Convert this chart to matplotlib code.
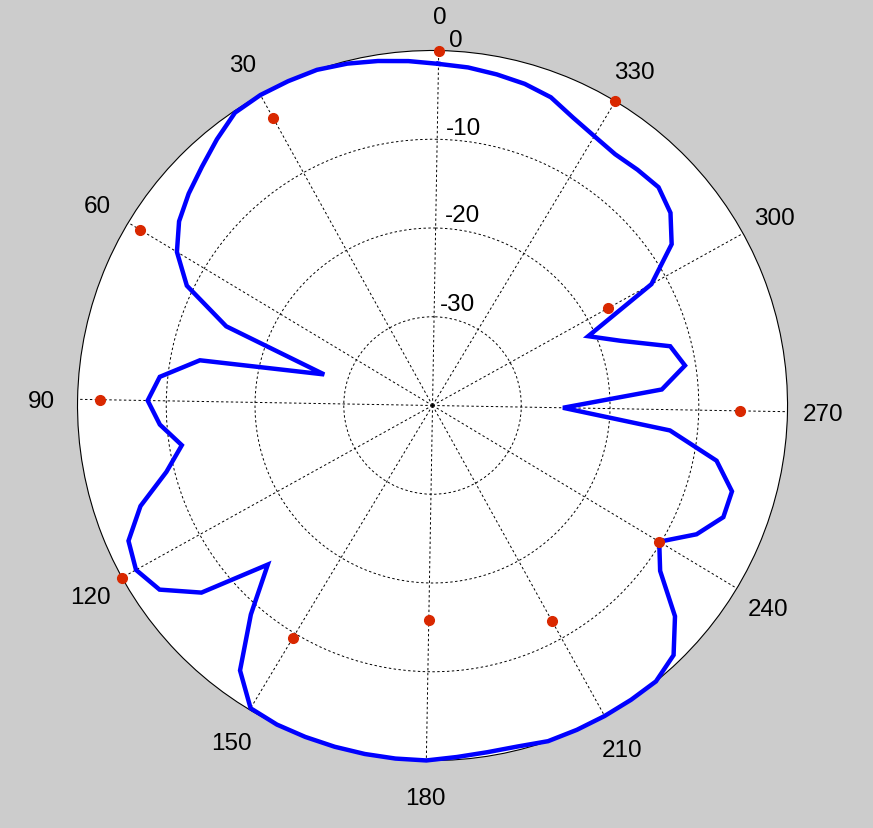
import numpy as np
import matplotlib
matplotlib.use('Agg')
import matplotlib.pyplot as plt
from matplotlib.transforms import offset_copy

plt.rcParams['font.family'] = ['Liberation Sans', 'DejaVu Sans']

# simulated pattern, every 5 degrees (dB)
angles = list(range(0, 365, 5))
gain_db = [-1.5, -1.1, -0.7, -0.3, 0.0, 0.0, 0.0, -0.2, -1.4, -2.6,
           -3.6, -4.7, -6.4, -9.2, -15.1, -27.3, -13.3, -9.1, -7.9, -9.2,
           -11.4, -9.1, -5.2, -2.5, -1.8, -2.9, -6.5, -14.2, -8.8, -3.1,
           -0.2, 0.0, 0.0, 0.0, 0.0, 0.0, 0.0, -0.3, -0.45, -0.4,
           0.0, 0.0, 0.0, 0.0, 0.0, -0.9, -3.8, -8.3, -10.2, -6.9,
           -4.9, -4.9, -7.4, -13.1, -25.3, -14.1, -11.2, -12.4, -17.6, -20.8,
           -11.8, -7.5, -5.5, -4.6, -4.8, -5.0, -4.6, -3.9, -2.8, -2.3,
           -2.0, -1.7, -1.5]

# measured points, every 30 degrees (dB)
meas_angles = list(range(0, 360, 30))
meas_db = [0.0, -3.0, -1.6, -2.5, 0.0, -9.5, -15.8, -12.2, -10.2, -5.4, -17.4, 0.0]

ring_values = [-30, -20, -10, 0]
ring_labels = ['-30', '-20', '-10', '0']
spoke_angles = list(range(0, 360, 30))

fig = plt.figure(figsize=(8.73, 8.29), dpi=100, facecolor='#cccccc')
ax = fig.add_axes([0.0888, 0.0814, 0.8133, 0.8565], projection='polar')
ax.set_facecolor('white')
ax.set_theta_zero_location('N', offset=-1)
ax.set_theta_direction(1)
ax.set_ylim(-40, 0)

ax.set_xticks(np.deg2rad(spoke_angles))
ax.set_xticklabels([])
ax.set_yticks(ring_values[:-1])
ax.set_yticklabels([])
ax.grid(True, color='black', linestyle=(0, (2.5, 2.5)), linewidth=0.7)
ax.spines['polar'].set_linewidth(0.8)
ax.spines['polar'].set_color('black')

ax.plot(np.deg2rad(angles), gain_db, color='#0000ff', linewidth=3.2,
        solid_joinstyle='miter', clip_on=False, zorder=3)
ax.plot(np.deg2rad(meas_angles), meas_db, 'o', color='#d92800', markersize=7,
        clip_on=False, zorder=4)

txt_tr = offset_copy(ax.transData, fig=fig, x=0, y=-2, units='dots')

# angle labels outside the circle
for a in spoke_angles:
    ax.text(np.deg2rad(a), 4.06, str(a), ha='center', va='center',
            fontsize=17.5, transform=txt_tr)

# ring labels just right of the 0 degree spoke
label_theta = [347.6, 352.2, 354.6, 357.3]
label_r = [-28.0, -18.05, -8.3, 1.44]
for t, r, s in zip(label_theta, label_r, ring_labels):
    ax.text(np.deg2rad(t), r, s, ha='center', va='center', fontsize=17.5,
            transform=txt_tr)

fig.savefig('out.png', dpi=100, facecolor=fig.get_facecolor())
